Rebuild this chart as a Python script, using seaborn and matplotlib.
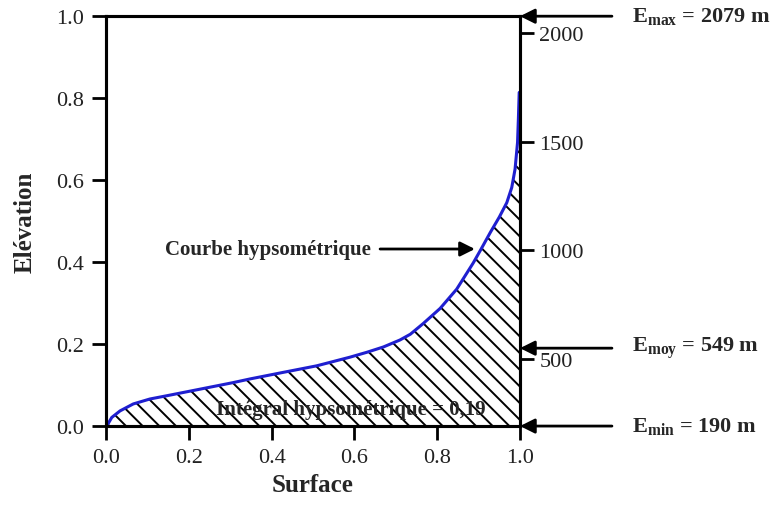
import matplotlib
matplotlib.use('Agg')
import matplotlib.pyplot as plt
import seaborn as sns
import pandas as pd

# courbe hypsométrique (surface relative / élévation relative)
surface = [0, 0.003, 0.014, 0.034, 0.066, 0.106, 0.147, 0.187, 0.227, 0.267,
           0.307, 0.348, 0.428, 0.509, 0.589, 0.63, 0.67, 0.71, 0.735, 0.766,
           0.807, 0.847, 0.887, 0.905, 0.928, 0.95, 0.968, 0.98, 0.988,
           0.994, 0.996, 0.998]
elevation = [0, 0.002, 0.021, 0.037, 0.054, 0.066, 0.074, 0.082, 0.09, 0.098,
             0.106, 0.115, 0.131, 0.147, 0.168, 0.18, 0.193, 0.21, 0.224, 0.25,
             0.287, 0.334, 0.398, 0.43, 0.472, 0.51, 0.545, 0.582, 0.627,
             0.692, 0.749, 0.814]

# altitudes (m)
e_min = 190
e_moy = 549
e_max = 2079
alt_ticks = [500, 1000, 1500, 2000]
integrale = '0,19'

df = pd.DataFrame({'Surface': surface, 'Elevation': elevation})

sns.set_theme(style='ticks')
plt.rcParams['font.family'] = ['Liberation Serif', 'DejaVu Serif']
plt.rcParams['mathtext.fontset'] = 'custom'
plt.rcParams['mathtext.rm'] = 'Liberation Serif'
plt.rcParams['mathtext.bf'] = 'Liberation Serif:bold'
plt.rcParams['hatch.linewidth'] = 1.4

fig = plt.figure(figsize=(7.82, 5.06), dpi=100)
fig.subplots_adjust(left=0.1355, right=0.665, top=0.966, bottom=0.156)
ax = fig.add_subplot(111)

# zone hachurée sous la courbe
ax.fill_between(df['Surface'], 0, df['Elevation'], facecolor='none',
                edgecolor='black', hatch='\\\\', linewidth=0)
sns.lineplot(data=df, x='Surface', y='Elevation', ax=ax, color='#1f1fd0',
             linewidth=2.2, estimator=None, sort=False)

ax.set_xlim(0, 1)
ax.set_ylim(0, 1)
ax.set_xticks([0, 0.2, 0.4, 0.6, 0.8, 1.0])
ax.set_yticks([0, 0.2, 0.4, 0.6, 0.8, 1.0])
ax.set_xticklabels(['0.0', '0.2', '0.4', '0.6', '0.8', '1.0'])
ax.set_yticklabels(['0.0', '0.2', '0.4', '0.6', '0.8', '1.0'])
ax.set_xlabel('Surface', fontsize=18, fontweight='bold', labelpad=4)
ax.set_ylabel('Elévation', fontsize=18, fontweight='bold', labelpad=14)
ax.tick_params(axis='both', labelsize=16, length=10, width=2, color='black',
               labelcolor='#222222', pad=6)
for s in ax.spines.values():
    s.set_linewidth(2.2)
    s.set_color('black')

# axe droit en altitude
ax2 = ax.twinx()
ax2.set_ylim(e_min, e_max)
ax2.set_yticks(alt_ticks)
ax2.set_yticklabels([str(v) for v in alt_ticks])
ax2.tick_params(axis='y', labelsize=16, length=10, width=2, color='black',
                labelcolor='#222222', pad=4)
for s in ax2.spines.values():
    s.set_linewidth(2.2)
    s.set_color('black')
ax2.grid(False)

# flèches Emax / Emoy / Emin
niveaux = [
    (1.0, r'$\mathbf{E}_{\mathbf{max}}$' + f' = {e_max} m'),
    ((e_moy - e_min) / (e_max - e_min), r'$\mathbf{E}_{\mathbf{moy}}$' + f' = {e_moy} m'),
    (0.0, r'$\mathbf{E}_{\mathbf{min}}$' + f' = {e_min} m'),
]
for yv, lab in niveaux:
    ax.annotate('', xy=(1.0, yv), xytext=(1.222, yv), annotation_clip=False,
                arrowprops=dict(arrowstyle='-|>', color='black', lw=2,
                                mutation_scale=22, shrinkA=0, shrinkB=0))
    ax.text(1.27, yv, lab, fontsize=16, fontweight='bold', va='center',
            ha='left', transform=ax.transData, clip_on=False)

ax.text(0.1425, 0.432, 'Courbe hypsométrique', fontsize=15, fontweight='bold',
        va='center', ha='left')
ax.annotate('', xy=(0.891, 0.432), xytext=(0.662, 0.432),
            arrowprops=dict(arrowstyle='-|>', color='black', lw=2,
                            mutation_scale=22, shrinkA=0, shrinkB=0))
ax.text(0.266, 0.041, f'Intégral hypsométrique = {integrale}', fontsize=15,
        fontweight='bold', va='center', ha='left')

fig.savefig('out.png', dpi=100)
